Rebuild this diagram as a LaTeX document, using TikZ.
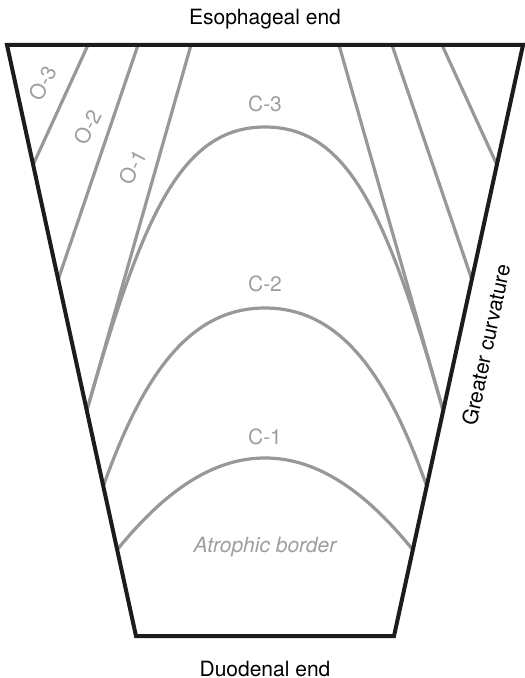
\documentclass[tikz,border=0pt]{standalone}
\usepackage{fontspec}
\setmainfont{TeX Gyre Heros}
\definecolor{wallblack}{RGB}{28,28,28}
\definecolor{zonegray}{RGB}{152,152,152}
\definecolor{labelgray}{RGB}{158,158,158}
\begin{document}
\begin{tikzpicture}[
  x=0.5pt, y=-0.5pt,
  every node/.style={
    inner sep=0pt,
    font=\fontsize{10.5}{12}\selectfont
  },
  wall/.style={draw=wallblack, line width=2pt},
  zone/.style={draw=zonegray, line width=1.6pt},
  zonelabel/.style={text=labelgray}
]
\useasboundingbox (0,0) rectangle (524,678);
% stomach outline
\coordinate (tl) at (7,45);
\coordinate (tr) at (523,45);
\coordinate (br) at (394,636);
\coordinate (bl) at (136,636);
% open-type borders, lesser curvature side
\coordinate (o3t) at (88,45);
\coordinate (o3b) at (33,165);
\coordinate (o2t) at (138,45);
\coordinate (o2b) at (58,280);
\coordinate (o1t) at (191,45);
\coordinate (o1b) at (87,410);
% same on the greater curvature side
\coordinate (g1t) at (339,45);
\coordinate (g1b) at (443,410);
\coordinate (g2t) at (392,45);
\coordinate (g2b) at (472,280);
\coordinate (g3t) at (442,45);
\coordinate (g3b) at (497,165);
% closed-type borders
\coordinate (c3top) at (265,127);
\coordinate (c2l) at (103,487);
\coordinate (c2top) at (265,308);
\coordinate (c2r) at (427,487);
\coordinate (c1l) at (117,550);
\coordinate (c1top) at (265,458);
\coordinate (c1r) at (413,550);

\draw[zone] (o3t) -- (o3b);
\draw[zone] (o2t) -- (o2b);
\draw[zone] (o1t) -- (o1b);
\draw[zone] (g1t) -- (g1b);
\draw[zone] (g2t) -- (g2b);
\draw[zone] (g3t) -- (g3b);
\draw[zone] (o1b) .. controls (142,218) and (180,127) .. (c3top)
  .. controls (350,127) and (388,218) .. (g1b);
\draw[zone] (c2l) .. controls (143,374) and (190,308) .. (c2top)
  .. controls (340,308) and (387,374) .. (c2r);
\draw[zone] (c1l) .. controls (164,492) and (212,458) .. (c1top)
  .. controls (318,458) and (366,492) .. (c1r);
\draw[wall] (tl) -- (tr) -- (br) -- (bl) -- cycle;

\node[zonelabel, rotate=63] (o3lab) at (43,83) {O-3};
\node[zonelabel, rotate=63] (o2lab) at (88,127) {O-2};
\node[zonelabel, rotate=63] (o1lab) at (133,167) {O-1};
\node[zonelabel, anchor=base] (c3lab) at (265,112) {C-3};
\node[zonelabel, anchor=base] (c2lab) at (265,292) {C-2};
\node[zonelabel, anchor=base] (c1lab) at (265,444) {C-1};
\node[zonelabel, anchor=base, font=\fontsize{10.5}{12}\selectfont\itshape] (atro) at (265,552) {Atrophic border};
\node[anchor=base] (esoph) at (265,25) {Esophageal end};
\node[anchor=base] (duod) at (265,676) {Duodenal end};
\node[rotate=78] (curv) at (486,345) {Greater curvature};
\end{tikzpicture}
\end{document}
